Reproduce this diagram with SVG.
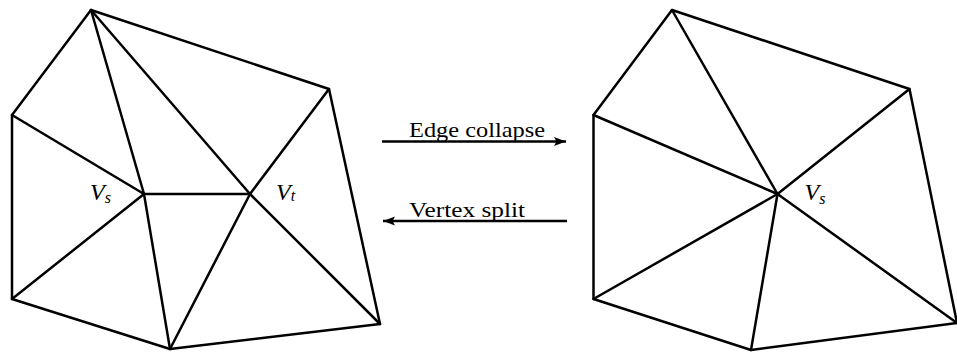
<svg xmlns="http://www.w3.org/2000/svg" width="957" height="353" viewBox="0 0 957 353">
  <style>
    .edge { stroke: #000; stroke-width: 2.5; stroke-linecap: round; stroke-linejoin: round; fill: none; }
    .lbl { font-family: "Liberation Serif", "DejaVu Serif", serif; font-size: 22px; fill: #000; }
    .v { font-family: "Liberation Serif", "DejaVu Serif", serif; font-style: italic; font-size: 24px; fill: #000; }
    .sub { font-size: 16px; }
    .arrow { stroke: #000; stroke-width: 2.5; fill: none; }
  </style>
  <defs>
    <marker id="head" markerUnits="userSpaceOnUse" markerWidth="14" markerHeight="10" refX="12" refY="5" orient="auto">
      <path d="M0,0.5 L12,5 L0,9.5 L2.5,5 Z" fill="#000"/>
    </marker>
  </defs>

  <g id="mesh-before">
    <g id="mesh-before-edges" class="edge">
      <polygon points="91,10 329,89 380,324 170,349 12,299 12,115"/>
      <line x1="91" y1="10" x2="144" y2="194"/>
      <line x1="91" y1="10" x2="250" y2="194"/>
      <line x1="12" y1="115" x2="144" y2="194"/>
      <line x1="12" y1="299" x2="144" y2="194"/>
      <line x1="170" y1="349" x2="144" y2="194"/>
      <line x1="144" y1="194" x2="250" y2="194"/>
      <line x1="170" y1="349" x2="250" y2="194"/>
      <line x1="329" y1="89" x2="250" y2="194"/>
      <line x1="380" y1="324" x2="250" y2="194"/>
    </g>
    <g id="vs-left"><text class="v" x="90" y="199.5">V<tspan class="sub" dy="3.5">s</tspan></text></g>
    <g id="vt-left"><text class="v" x="276" y="199.5">V<tspan class="sub" dy="1">t</tspan></text></g>
  </g>

  <g id="connectors">
    <g id="edge-collapse">
      <line class="arrow" x1="382" y1="141.5" x2="566" y2="141.5" marker-end="url(#head)"/>
      <text class="lbl" x="409" y="136.5" textLength="136" lengthAdjust="spacingAndGlyphs">Edge collapse</text>
    </g>
    <g id="vertex-split">
      <line class="arrow" x1="567" y1="221" x2="383" y2="221" marker-end="url(#head)"/>
      <text class="lbl" x="409" y="216.5" textLength="116" lengthAdjust="spacingAndGlyphs">Vertex split</text>
    </g>
  </g>

  <g id="mesh-after">
    <g id="mesh-after-edges" class="edge">
      <polygon points="672,10 909.5,89 957,323 751,350 593.5,299 593.5,115"/>
      <line x1="672" y1="10" x2="777.5" y2="194"/>
      <line x1="593.5" y1="115" x2="777.5" y2="194"/>
      <line x1="593.5" y1="299" x2="777.5" y2="194"/>
      <line x1="751" y1="350" x2="777.5" y2="194"/>
      <line x1="909.5" y1="89" x2="777.5" y2="194"/>
      <line x1="957" y1="323" x2="777.5" y2="194"/>
    </g>
    <g id="vs-right"><text class="v" x="804.5" y="200">V<tspan class="sub" dy="3.5">s</tspan></text></g>
  </g>
</svg>
